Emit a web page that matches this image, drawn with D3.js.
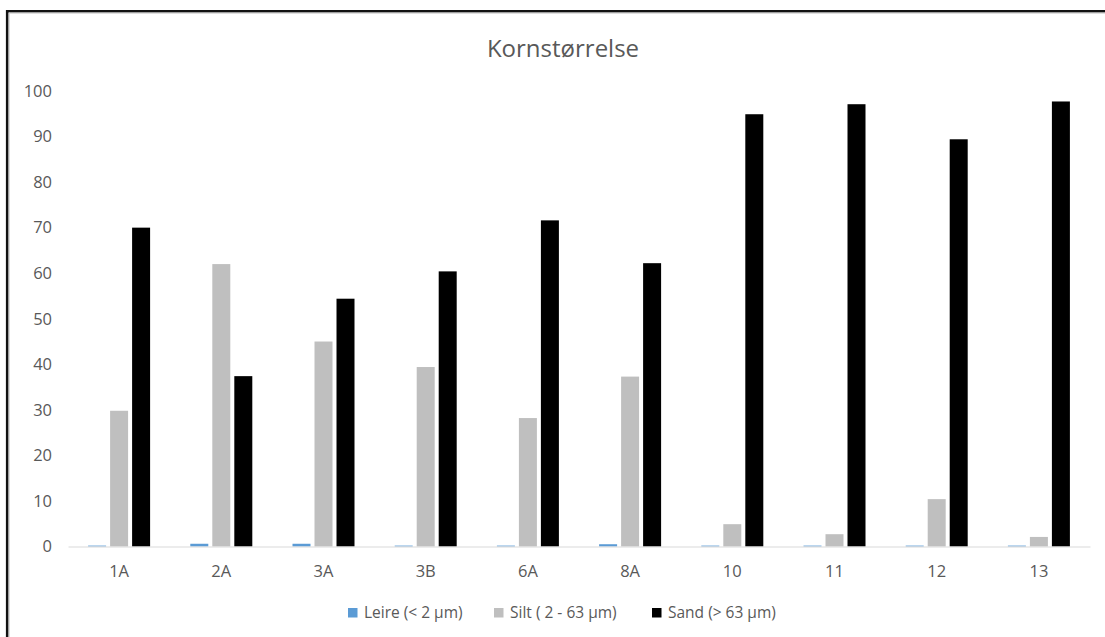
<!DOCTYPE html>
<html>
<head>
<meta charset="utf-8">
<script src="https://cdn.jsdelivr.net/npm/d3@7"></script>
<style>
  html, body { margin: 0; padding: 0; background: #fff; }
  svg { display: block; font-family: "Open Sans", "Noto Sans", sans-serif; }
</style>
</head>
<body>
<svg id="chart" width="1105" height="637"></svg>
<script>
// Grain size distribution per sample (percent)
const categories = ["1A", "2A", "3A", "3B", "6A", "8A", "10", "11", "12", "13"];
const seriesNames = ["Leire (< 2 µm)", "Silt ( 2 - 63 µm)", "Sand (> 63 µm)"];
const leire = [0.2, 0.6, 0.6, 0.2, 0.2, 0.5, 0.2, 0.2, 0.2, 0.2];
const silt  = [29.8, 62.0, 45.0, 39.4, 28.2, 37.3, 4.9, 2.7, 10.4, 2.1];
const sand  = [70.0, 37.4, 54.4, 60.4, 71.6, 62.2, 94.9, 97.1, 89.4, 97.7];
const yTicks = [0, 10, 20, 30, 40, 50, 60, 70, 80, 90, 100];
const colors = ["#5b9bd5", "#bfbfbf", "#000000"];

const seriesValues = [leire, silt, sand];
const svg = d3.select("#chart");
const labelFont = "'Open Sans', 'Noto Sans', sans-serif";

// Frame edges
svg.append("rect").attr("width", 1105).attr("height", 637).attr("fill", "#fff");
svg.append("line").attr("x1", 7.2).attr("x2", 7.2).attr("y1", 10).attr("y2", 637)
  .attr("stroke", "#111").attr("stroke-width", 2.6);
svg.append("line").attr("x1", 6).attr("x2", 1105).attr("y1", 11.2).attr("y2", 11.2)
  .attr("stroke", "#111").attr("stroke-width", 2.6);
svg.append("line").attr("x1", 9.2).attr("x2", 9.2).attr("y1", 12.5).attr("y2", 637)
  .attr("stroke", "#d0d0d0").attr("stroke-width", 1);
svg.append("line").attr("x1", 9).attr("x2", 1105).attr("y1", 13.2).attr("y2", 13.2)
  .attr("stroke", "#d0d0d0").attr("stroke-width", 1);

const plot = { left: 68, right: 1090, top: 91, bottom: 546.5 };

const x0 = d3.scaleBand().domain(categories).range([plot.left, plot.right]);
const x1 = d3.scaleBand().domain(d3.range(seriesNames.length)).range([0, 62]).paddingInner(0.182);
const y = d3.scaleLinear().domain([0, 100]).range([plot.bottom, plot.top]);

// Title
svg.append("text").attr("x", 563).attr("y", 57).attr("text-anchor", "middle")
  .attr("font-size", 24).attr("fill", "#595959").text("Kornstørrelse");

// Y axis labels
const yAxis = d3.axisLeft(y).tickValues(yTicks).tickSize(0).tickPadding(0);
const yg = svg.append("g").attr("transform", `translate(${52},0)`).call(yAxis);
yg.select(".domain").remove();
yg.selectAll("text").attr("font-size", 16.5).attr("fill", "#595959")
  .attr("font-family", labelFont);

// Bars
const groups = svg.append("g").selectAll("g")
  .data(categories)
  .join("g")
  .attr("transform", c => `translate(${x0(c) + x0.bandwidth() / 2 - 31},0)`);

groups.selectAll("rect")
  .data((c, i) => seriesValues.map((vals, s) => ({ s, v: vals[i] })))
  .join("rect")
  .attr("x", d => x1(d.s))
  .attr("width", x1.bandwidth())
  .attr("y", d => y(d.v))
  .attr("height", d => y(0) - y(d.v))
  .attr("fill", d => colors[d.s]);

// Category axis
const xAxis = d3.axisBottom(x0).tickSize(0).tickPadding(0);
const xg = svg.append("g").attr("transform", `translate(0,${plot.bottom})`).call(xAxis);
xg.select(".domain").attr("stroke", "#d9d9d9").attr("stroke-width", 1.2);
xg.selectAll("text").attr("font-size", 16.5).attr("fill", "#595959").attr("dy", "1.87em")
  .attr("font-family", labelFont);

// Legend
const legendX = [348, 494, 652];
const legend = svg.append("g").selectAll("g")
  .data(seriesNames)
  .join("g")
  .attr("transform", (d, i) => `translate(${legendX[i]},${613})`);
legend.append("rect").attr("x", 0).attr("y", -5).attr("width", 9.5).attr("height", 9.5)
  .attr("fill", (d, i) => colors[i]);
legend.append("text").attr("x", 16).attr("y", 0).attr("dy", "0.35em")
  .attr("font-size", 15.5).attr("fill", "#595959").text(d => d);
</script>
</body>
</html>
